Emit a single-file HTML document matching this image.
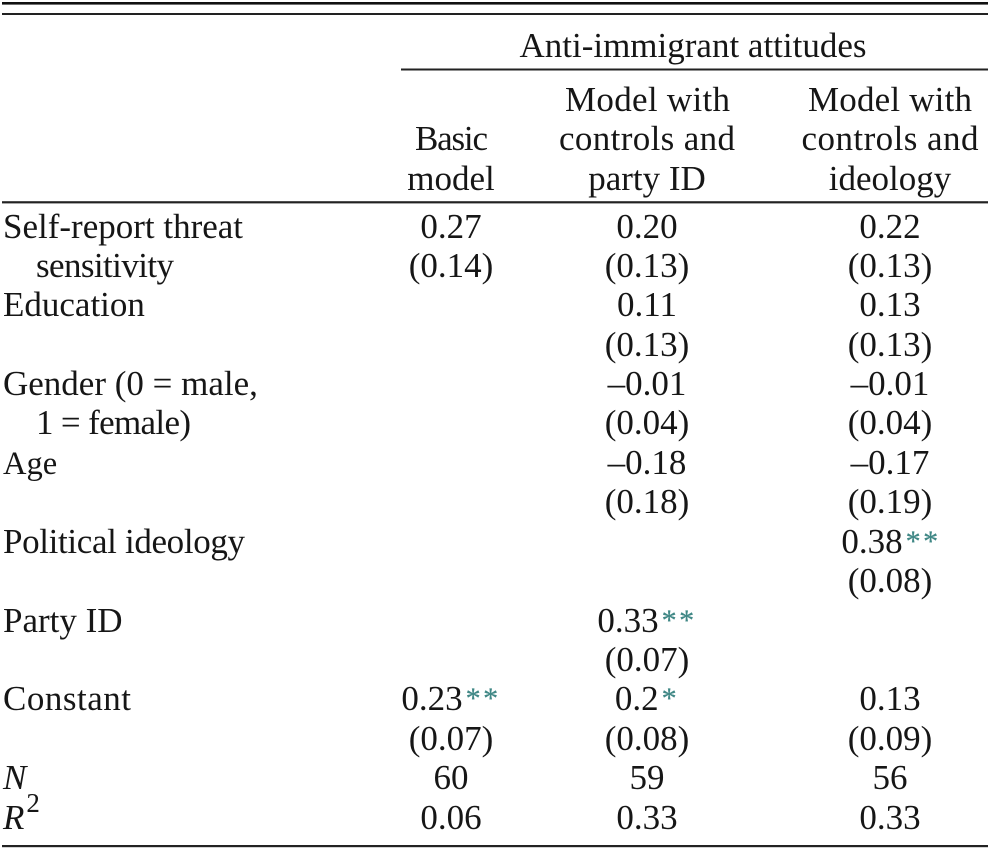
<!DOCTYPE html>
<html lang="en">
<head>
<meta charset="utf-8">
<title>Anti-immigrant attitudes regression table</title>
<style>
html,body{margin:0;padding:0;background:#fff;}
svg{display:block;}
text{font-family:"Liberation Serif",serif;font-size:35px;fill:#161616;}
.c{text-anchor:middle;}
.s{fill:#3f8785;stroke:#3f8785;stroke-width:.25px;font-size:30px;letter-spacing:2.5px;}
.i{font-style:italic;}
</style>
</head>
<body>
<svg width="990" height="849" viewBox="0 0 990 849" xmlns="http://www.w3.org/2000/svg">
<rect x="2" y="2" width="986" height="2.6" fill="#111"/>
<rect x="2" y="13" width="986" height="2" fill="#222"/>
<rect x="401" y="68.5" width="587" height="2" fill="#222"/>
<rect x="2" y="201.2" width="986" height="2.2" fill="#222"/>
<rect x="2" y="845" width="986" height="2.2" fill="#222"/>

<text class="c" x="693" y="57">Anti-immigrant attitudes</text>
<text class="c" x="451.5" y="150" textLength="73">Basic</text>
<text class="c" x="451" y="190">model</text>
<text class="c" x="647.5" y="111" textLength="165">Model with</text>
<text class="c" x="647" y="150" textLength="176">controls and</text>
<text class="c" x="647" y="190">party ID</text>
<text class="c" x="890" y="111" textLength="164">Model with</text>
<text class="c" x="890" y="150" textLength="177">controls and</text>
<text class="c" x="890" y="190">ideology</text>

<text x="3" y="238">Self-report threat</text>
<text x="36" y="277" textLength="138">sensitivity</text>
<text x="3" y="316">Education</text>
<text x="3" y="395">Gender (0 = male,</text>
<text x="36" y="434" textLength="155">1 = female)</text>
<text x="3" y="474" style="font-size:32.5px">Age</text>
<text x="3" y="553" textLength="242">Political ideology</text>
<text x="3" y="632">Party ID</text>
<text x="3" y="710" textLength="128">Constant</text>
<text class="i" x="3" y="789">N</text>
<text class="i" x="3" y="829">R<tspan font-style="normal" font-size="27" dy="-17" dx="2">2</tspan></text>

<text class="c" x="451" y="238">0.27</text>
<text class="c" x="451" y="277">(0.14)</text>
<text class="c" x="647" y="238">0.20</text>
<text class="c" x="647" y="277">(0.13)</text>
<text class="c" x="890" y="238">0.22</text>
<text class="c" x="890" y="277">(0.13)</text>

<text class="c" x="647" y="316">0.11</text>
<text class="c" x="647" y="356">(0.13)</text>
<text class="c" x="890" y="316">0.13</text>
<text class="c" x="890" y="356">(0.13)</text>

<text class="c" x="647" y="395">–0.01</text>
<text class="c" x="647" y="434">(0.04)</text>
<text class="c" x="890" y="395">–0.01</text>
<text class="c" x="890" y="434">(0.04)</text>

<text class="c" x="647" y="474">–0.18</text>
<text class="c" x="647" y="513">(0.18)</text>
<text class="c" x="890" y="474">–0.17</text>
<text class="c" x="890" y="513">(0.19)</text>

<text class="c" x="891" y="553">0.38<tspan class="s" dx="3" dy="-2">**</tspan></text>
<text class="c" x="890" y="592">(0.08)</text>

<text class="c" x="647" y="632">0.33<tspan class="s" dx="3" dy="-2">**</tspan></text>
<text class="c" x="647" y="671">(0.07)</text>

<text class="c" x="451" y="710">0.23<tspan class="s" dx="3" dy="-2">**</tspan></text>
<text class="c" x="451" y="750">(0.07)</text>
<text class="c" x="647" y="710">0.2<tspan class="s" dx="3" dy="-2">*</tspan></text>
<text class="c" x="647" y="750">(0.08)</text>
<text class="c" x="890" y="710">0.13</text>
<text class="c" x="890" y="750">(0.09)</text>

<text class="c" x="451" y="789">60</text>
<text class="c" x="647" y="789">59</text>
<text class="c" x="890" y="789">56</text>
<text class="c" x="451" y="829">0.06</text>
<text class="c" x="647" y="829">0.33</text>
<text class="c" x="890" y="829">0.33</text>
</svg>
</body>
</html>
